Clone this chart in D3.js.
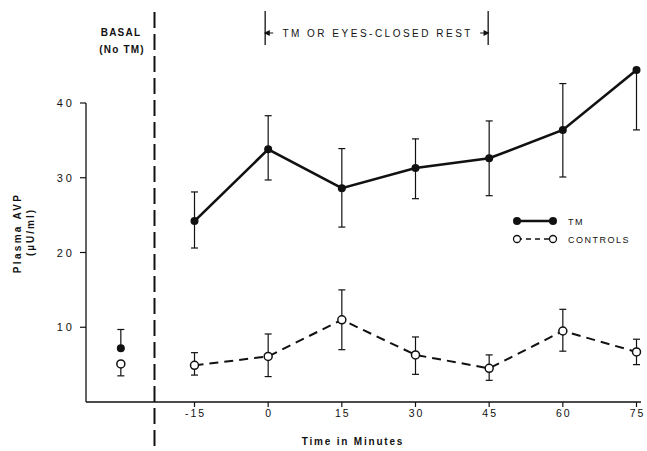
<!DOCTYPE html>
<html>
<head>
<meta charset="utf-8">
<script src="https://cdn.jsdelivr.net/npm/d3@7"></script>
<style>
	body { margin: 0; background: #fff; }
	text { font-family: "Liberation Sans", Arial, sans-serif; fill: #111; }
</style>
</head>
<body>
<script>
// data
var times = [-15, 0, 15, 30, 45, 60, 75];
var tmMean = [24.2, 33.8, 28.6, 31.3, 32.6, 36.4, 44.4];
var tmHigh = [28.1, 38.3, 33.9, 35.2, 37.6, 42.6, 44.4];
var tmLow = [20.6, 29.7, 23.4, 27.2, 27.6, 30.1, 36.4];
var ctlMean = [4.9, 6.1, 11.0, 6.3, 4.5, 9.5, 6.7];
var ctlHigh = [6.6, 9.1, 15.0, 8.7, 6.3, 12.4, 8.4];
var ctlLow = [3.6, 3.4, 7.0, 3.7, 2.9, 6.8, 5.0];
// basal values (no TM), drawn left of the dashed line
var basalTime = -30;
var basalTm = {mean: 7.2, high: 9.7, low: 7.2};
var basalCtl = {mean: 5.1, high: 5.1, low: 3.5};
var yTicks = [10, 20, 30, 40];

// doc dimensions
var width = 647;
var height = 451;

var svg = d3.select("body").append("svg")
	.attr("width", width)
	.attr("height", height);

var x = d3.scaleLinear().domain([-15, 75]).range([194.5, 636.5]);
var y = d3.scaleLinear().domain([0, 40]).range([402, 103]);
var axisLeft = 86;
var axisRight = 641;
var ink = "#111";

// axes lines
svg.append("line")
	.attr("x1", axisLeft).attr("x2", axisLeft)
	.attr("y1", y(40)).attr("y2", y(0))
	.attr("stroke", ink).attr("stroke-width", 1.3);
svg.append("line")
	.attr("x1", axisLeft).attr("x2", axisRight)
	.attr("y1", y(0)).attr("y2", y(0))
	.attr("stroke", ink).attr("stroke-width", 1.5);

// y ticks
var yt = svg.selectAll(".ytick").data(yTicks).enter().append("g");
yt.append("line")
	.attr("x1", axisLeft - 6).attr("x2", axisLeft)
	.attr("y1", function(d) { return y(d); })
	.attr("y2", function(d) { return y(d); })
	.attr("stroke", ink).attr("stroke-width", 1.2);
yt.append("text")
	.attr("x", axisLeft - 11)
	.attr("y", function(d) { return y(d) + 4; })
	.attr("text-anchor", "end")
	.attr("font-size", 11)
	.attr("letter-spacing", 3)
	.text(function(d) { return d; });

// x ticks
var xt = svg.selectAll(".xtick").data(times).enter().append("g");
xt.append("line")
	.attr("x1", function(d) { return x(d); })
	.attr("x2", function(d) { return x(d); })
	.attr("y1", y(0)).attr("y2", y(0) + 5)
	.attr("stroke", ink).attr("stroke-width", 1.2);
xt.append("text")
	.attr("x", function(d) { return x(d) + 1; })
	.attr("y", 417)
	.attr("text-anchor", "middle")
	.attr("font-size", 10.5)
	.attr("letter-spacing", 2)
	.text(function(d) { return d; });

// axis titles
svg.append("text")
	.attr("x", 353).attr("y", 445)
	.attr("text-anchor", "middle")
	.attr("font-size", 10).attr("font-weight", "bold")
	.attr("letter-spacing", 1.8)
	.text("Time   in Minutes");

svg.append("text")
	.attr("transform", "translate(21,233) rotate(-90)")
	.attr("text-anchor", "middle")
	.attr("font-size", 10).attr("font-weight", "bold")
	.attr("letter-spacing", 2.3)
	.text("Plasma AVP");
svg.append("text")
	.attr("transform", "translate(34,232) rotate(-90)")
	.attr("text-anchor", "middle")
	.attr("font-size", 10).attr("font-weight", "bold")
	.attr("letter-spacing", 2)
	.text("(µU/ml)");

// dashed separator between basal and TM periods
svg.append("line")
	.attr("x1", 154.5).attr("x2", 154.5)
	.attr("y1", 12).attr("y2", 446)
	.attr("stroke", ink).attr("stroke-width", 2)
	.attr("stroke-dasharray", "16,6");

svg.append("text")
	.attr("x", 121).attr("y", 36)
	.attr("text-anchor", "middle")
	.attr("font-size", 10).attr("font-weight", "bold")
	.attr("letter-spacing", 1.2)
	.text("BASAL");
svg.append("text")
	.attr("x", 122).attr("y", 53)
	.attr("text-anchor", "middle")
	.attr("font-size", 10).attr("font-weight", "bold")
	.attr("letter-spacing", 1.2)
	.text("(No TM)");

// period bracket: TM from 0 to 45 min
var bracketL = x(0) - 3;
var bracketR = x(45) - 1;
[bracketL, bracketR].forEach(function(bx) {
	svg.append("line")
		.attr("x1", bx).attr("x2", bx)
		.attr("y1", 11).attr("y2", 45)
		.attr("stroke", ink).attr("stroke-width", 1.3);
});
svg.append("path")
	.attr("d", "M" + bracketL + ",33 h8 M" + bracketL + ",33 l4,-2 v4 z")
	.attr("stroke", ink).attr("fill", ink).attr("stroke-width", 1.2);
svg.append("path")
	.attr("d", "M" + bracketR + ",33 h-8 M" + bracketR + ",33 l-4,-2 v4 z")
	.attr("stroke", ink).attr("fill", ink).attr("stroke-width", 1.2);
svg.append("text")
	.attr("x", (bracketL + bracketR) / 2 + 1).attr("y", 37)
	.attr("text-anchor", "middle")
	.attr("font-size", 10)
	.attr("letter-spacing", 2.5)
	.text("TM OR EYES-CLOSED REST");

// build rows for each series
function rows(mean, high, low) {
	return times.map(function(t, i) {
		return {t: t, mean: mean[i], high: high[i], low: low[i]};
	});
}
var tmRows = rows(tmMean, tmHigh, tmLow);
var ctlRows = rows(ctlMean, ctlHigh, ctlLow);
basalTm.t = basalTime;
basalCtl.t = basalTime;

// error bars
function drawErrors(data) {
	var g = svg.append("g");
	var bars = g.selectAll("g").data(data).enter().append("g")
		.attr("stroke", ink).attr("stroke-width", 1.2);
	bars.append("line")
		.attr("x1", function(d) { return x(d.t); })
		.attr("x2", function(d) { return x(d.t); })
		.attr("y1", function(d) { return y(d.high); })
		.attr("y2", function(d) { return y(d.low); });
	bars.filter(function(d) { return d.high > d.mean; }).append("line")
		.attr("x1", function(d) { return x(d.t) - 3.5; })
		.attr("x2", function(d) { return x(d.t) + 3.5; })
		.attr("y1", function(d) { return y(d.high); })
		.attr("y2", function(d) { return y(d.high); });
	bars.filter(function(d) { return d.low < d.mean; }).append("line")
		.attr("x1", function(d) { return x(d.t) - 3.5; })
		.attr("x2", function(d) { return x(d.t) + 3.5; })
		.attr("y1", function(d) { return y(d.low); })
		.attr("y2", function(d) { return y(d.low); });
}
drawErrors(tmRows);
drawErrors(ctlRows);
drawErrors([basalTm, basalCtl]);

// series lines
var line = d3.line()
	.x(function(d) { return x(d.t); })
	.y(function(d) { return y(d.mean); });

svg.append("path")
	.datum(tmRows)
	.attr("d", line)
	.attr("fill", "none")
	.attr("stroke", ink)
	.attr("stroke-width", 2.6);

svg.append("path")
	.datum(ctlRows)
	.attr("d", line)
	.attr("fill", "none")
	.attr("stroke", ink)
	.attr("stroke-width", 2)
	.attr("stroke-dasharray", "9,6");

// markers
svg.selectAll(".tmDot").data(tmRows.concat([basalTm])).enter().append("circle")
	.attr("cx", function(d) { return x(d.t); })
	.attr("cy", function(d) { return y(d.mean); })
	.attr("r", 4)
	.attr("fill", ink);

svg.selectAll(".ctlDot").data(ctlRows.concat([basalCtl])).enter().append("circle")
	.attr("cx", function(d) { return x(d.t); })
	.attr("cy", function(d) { return y(d.mean); })
	.attr("r", 4)
	.attr("fill", "#fff")
	.attr("stroke", ink)
	.attr("stroke-width", 1.5);

// legend
var lx1 = 517, lx2 = 553;
svg.append("line")
	.attr("x1", lx1).attr("x2", lx2).attr("y1", 221).attr("y2", 221)
	.attr("stroke", ink).attr("stroke-width", 2.6);
svg.append("circle").attr("cx", lx1).attr("cy", 221).attr("r", 4).attr("fill", ink);
svg.append("circle").attr("cx", lx2).attr("cy", 221).attr("r", 4).attr("fill", ink);
svg.append("text")
	.attr("x", 568).attr("y", 225)
	.attr("font-size", 9).attr("letter-spacing", 1.5)
	.text("TM");

svg.append("line")
	.attr("x1", lx1).attr("x2", lx2).attr("y1", 239).attr("y2", 239)
	.attr("stroke", ink).attr("stroke-width", 1.5)
	.attr("stroke-dasharray", "5,4");
[lx1, lx2].forEach(function(cx) {
	svg.append("circle").attr("cx", cx).attr("cy", 239).attr("r", 3.5)
		.attr("fill", "#fff").attr("stroke", ink).attr("stroke-width", 1.3);
});
svg.append("text")
	.attr("x", 568).attr("y", 243)
	.attr("font-size", 9).attr("letter-spacing", 1.5)
	.text("CONTROLS");
</script>
</body>
</html>
